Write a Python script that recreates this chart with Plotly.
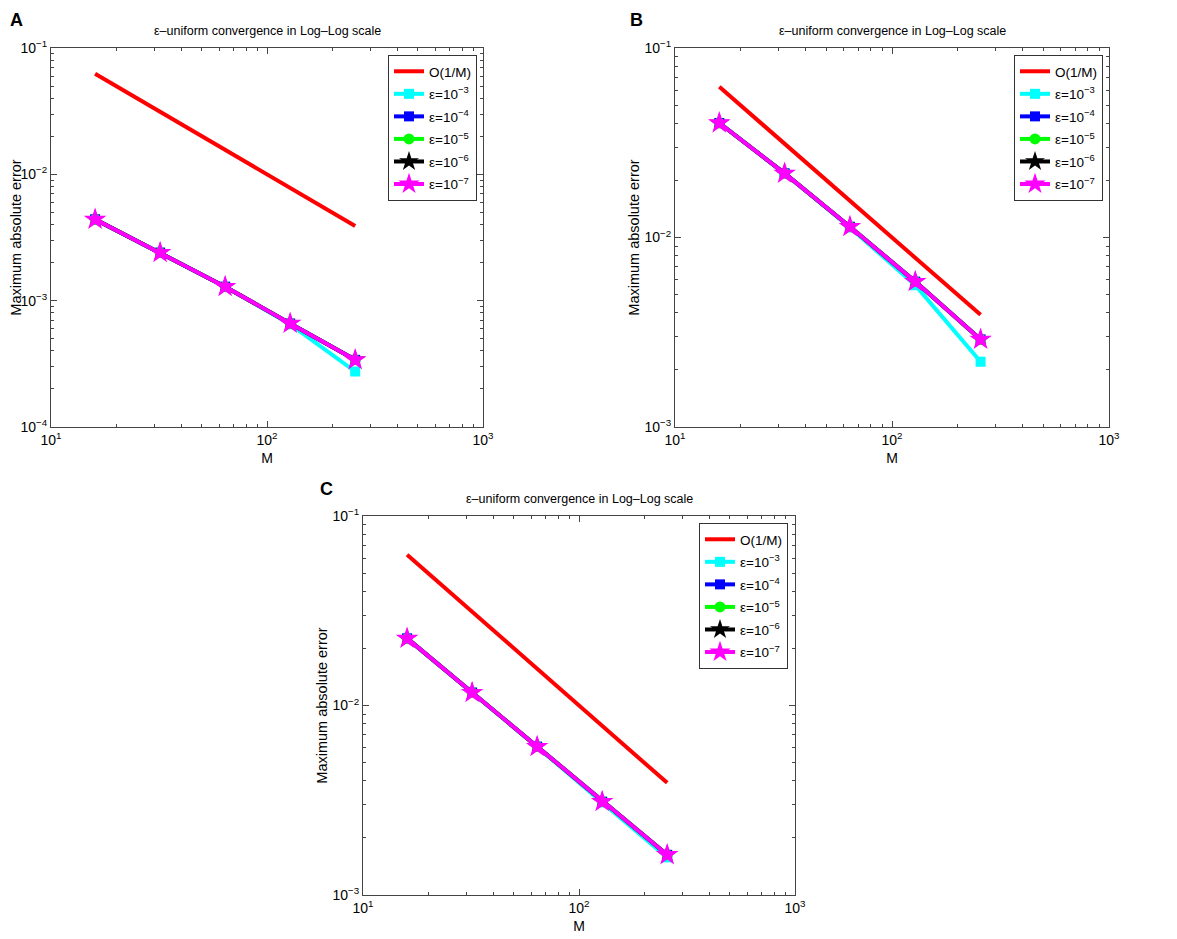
import plotly.graph_objects as go

W, H = 1177, 939
PAGE_PAD = 8  # default body margin of the html page

# grid sizes
M = [16, 32, 64, 128, 256]
ref_1_over_M = [0.0625, 0.03125, 0.015625, 0.0078125, 0.00390625]

# panel A: maximum absolute errors
A_eps3 = [4.4e-3, 2.4e-3, 1.29e-3, 6.5e-4, 2.75e-4]
A_eps4 = [4.4e-3, 2.4e-3, 1.29e-3, 6.6e-4, 3.4e-4]
A_eps5 = [4.4e-3, 2.4e-3, 1.29e-3, 6.6e-4, 3.4e-4]
A_eps6 = [4.4e-3, 2.4e-3, 1.29e-3, 6.6e-4, 3.4e-4]
A_eps7 = [4.4e-3, 2.4e-3, 1.29e-3, 6.6e-4, 3.4e-4]

# panel B
B_eps3 = [4.02e-2, 2.18e-2, 1.13e-2, 5.6e-3, 2.21e-3]
B_eps4 = [4.02e-2, 2.18e-2, 1.14e-2, 5.85e-3, 2.9e-3]
B_eps5 = [4.02e-2, 2.18e-2, 1.14e-2, 5.85e-3, 2.9e-3]
B_eps6 = [4.02e-2, 2.18e-2, 1.14e-2, 5.85e-3, 2.9e-3]
B_eps7 = [4.02e-2, 2.18e-2, 1.14e-2, 5.85e-3, 2.9e-3]

# panel C
C_eps3 = [2.26e-2, 1.17e-2, 6.05e-3, 3.08e-3, 1.58e-3]
C_eps4 = [2.26e-2, 1.17e-2, 6.07e-3, 3.11e-3, 1.63e-3]
C_eps5 = [2.26e-2, 1.17e-2, 6.07e-3, 3.11e-3, 1.63e-3]
C_eps6 = [2.26e-2, 1.17e-2, 6.07e-3, 3.11e-3, 1.63e-3]
C_eps7 = [2.26e-2, 1.17e-2, 6.07e-3, 3.11e-3, 1.63e-3]

eps_names = ["ε=10<sup>−3</sup>", "ε=10<sup>−4</sup>", "ε=10<sup>−5</sup>",
             "ε=10<sup>−6</sup>", "ε=10<sup>−7</sup>"]
eps_colors = ["#00ffff", "#0000ff", "#00ff00", "#000000", "#ff00ff"]
eps_symbols = ["square", "square", "circle", "star", "star"]
eps_sizes = [10, 10, 11, 15, 17]

FONT = "Liberation Sans, Arial, Helvetica, sans-serif"
TITLE = "ε–uniform convergence in Log–Log scale"

FW, FH = W - PAGE_PAD, H - PAGE_PAD


def px_x(v):
    return (v - PAGE_PAD) / FW


def px_y(v):
    return 1 - (v - PAGE_PAD) / FH


# pixel boxes of the three axes in the screenshot: (left, right, top, bottom)
# label = left edge / centre y of the bold panel letter
panels = [
    dict(key="A", box=(51, 483, 48, 427), yrange=(-4, -1), legend=(477, 55),
         series=[A_eps3, A_eps4, A_eps5, A_eps6, A_eps7], label=(8, 20)),
    dict(key="B", box=(675, 1109, 48, 427), yrange=(-3, -1), legend=(1103, 55),
         series=[B_eps3, B_eps4, B_eps5, B_eps6, B_eps7], label=(628, 20)),
    dict(key="C", box=(363, 795, 516, 895), yrange=(-3, -1), legend=(788, 523),
         series=[C_eps3, C_eps4, C_eps5, C_eps6, C_eps7], label=(318, 489)),
]

fig = go.Figure()
annotations = []
layout = {}

for i, p in enumerate(panels, 1):
    sfx = "" if i == 1 else str(i)
    xa, ya = "x" + sfx, "y" + sfx
    leg = "legend" + sfx

    fig.add_trace(go.Scatter(
        x=M, y=ref_1_over_M, mode="lines", name="O(1/M)",
        line=dict(color="#ff0000", width=4),
        xaxis=xa, yaxis=ya, legend=leg, legendgroup=p["key"] + "ref",
    ))
    for j, (vals, name, col, sym, sz) in enumerate(zip(p["series"], eps_names, eps_colors, eps_symbols, eps_sizes)):
        fig.add_trace(go.Scatter(
            x=M, y=vals, mode="lines+markers", name=name,
            line=dict(color=col, width=4),
            marker=dict(color=col, symbol=sym, size=sz, line=dict(width=0)),
            xaxis=xa, yaxis=ya, legend=leg, legendgroup="%s%d" % (p["key"], j),
        ))

    l, r, t, b = p["box"]
    ylo, yhi = p["yrange"]
    ytv = [10 ** k for k in range(ylo, yhi + 1)]
    ytt = ["10<sup>−%d</sup>" % (-k) for k in range(ylo, yhi + 1)]
    yminor = [m * 10 ** k for k in range(ylo, yhi) for m in range(2, 10)]
    xminor = [m * 10 ** k for k in range(1, 3) for m in range(2, 10)]

    axis_common = dict(
        type="log", showgrid=False, zeroline=False, automargin=False,
        showline=True, linecolor="#444", linewidth=1, mirror="allticks",
        ticks="inside", ticklen=6, tickcolor="#444",
        tickfont=dict(size=14, color="black", family=FONT),
    )

    layout["xaxis" + sfx] = dict(
        axis_common,
        domain=[px_x(l), px_x(r)], range=[1, 3], anchor=ya,
        tickvals=[10, 100, 1000],
        ticktext=["10<sup>1</sup>", "10<sup>2</sup>", "10<sup>3</sup>"],
        minor=dict(ticks="inside", ticklen=3, tickcolor="#444", tickvals=xminor),
        title=dict(text="M", font=dict(size=14, family=FONT, color="black"), standoff=6),
    )
    layout["yaxis" + sfx] = dict(
        axis_common,
        domain=[px_y(b), px_y(t)], range=[ylo, yhi], anchor=xa,
        tickvals=ytv, ticktext=ytt,
        minor=dict(ticks="inside", ticklen=3, tickcolor="#444", tickvals=yminor),
        title=dict(text="Maximum absolute error", font=dict(size=14.5, family=FONT, color="black"),
                   standoff=1),
    )

    lx, ly = p["legend"]
    layout[leg] = dict(
        x=px_x(lx), y=px_y(ly), xanchor="right", yanchor="top",
        bgcolor="white", bordercolor="#333", borderwidth=1,
        font=dict(size=13.5, family=FONT, color="black"),
        tracegroupgap=2, itemwidth=30,
    )

    annotations.append(dict(
        text=TITLE, x=px_x((l + r) / 2), y=px_y(t - 17), xref="paper", yref="paper",
        xanchor="center", yanchor="middle", showarrow=False,
        font=dict(size=12.5, family=FONT, color="black"),
    ))
    px_lab, py_lab = p["label"]
    annotations.append(dict(
        text="<b>%s</b>" % p["key"], x=px_x(px_lab), y=px_y(py_lab), xref="paper", yref="paper",
        xanchor="left", yanchor="middle", showarrow=False,
        font=dict(size=18, family=FONT, color="black"),
    ))

fig.update_layout(
    width=FW, height=FH,
    margin=dict(l=0, r=0, t=0, b=0),
    paper_bgcolor="white", plot_bgcolor="white",
    showlegend=True,
    annotations=annotations,
    **layout,
)

fig.write_html("out.html")
